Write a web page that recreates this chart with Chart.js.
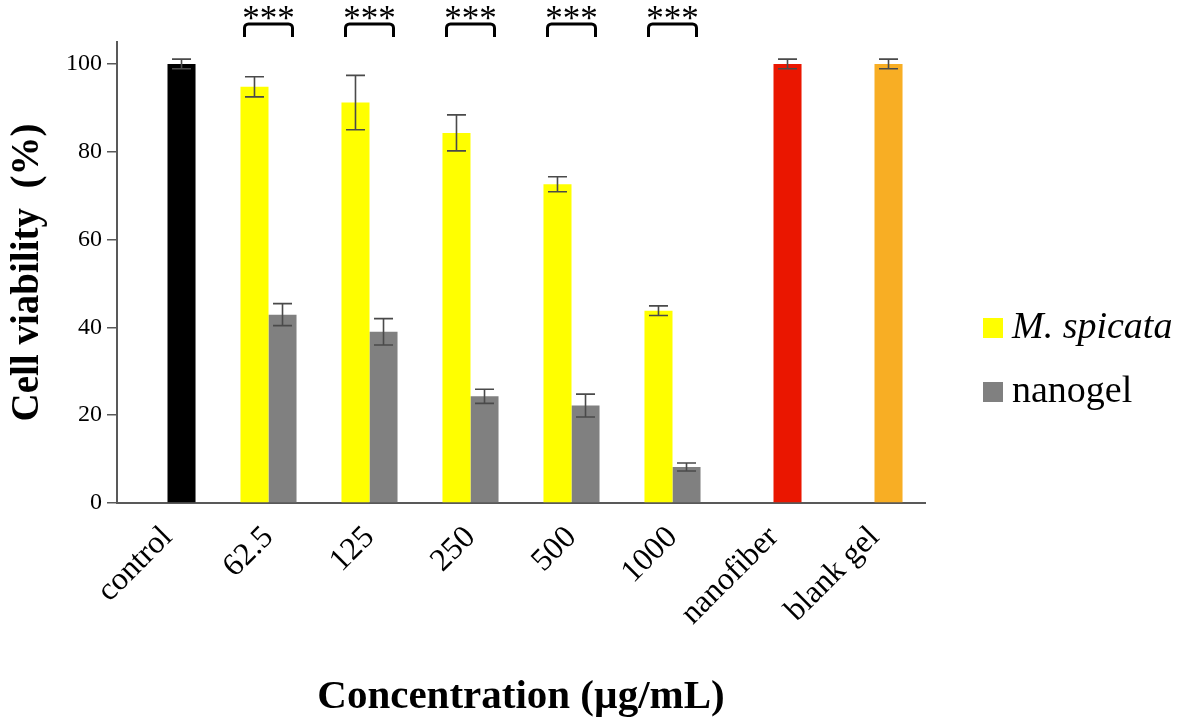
<!DOCTYPE html>
<html>
<head>
<meta charset="utf-8">
<script src="https://cdn.jsdelivr.net/npm/chart.js@4.4.1/dist/chart.umd.min.js"></script>
<style>
    body { margin: 0; background: #fff; }
    #wrap { width: 1179px; height: 728px; }
</style>
</head>
<body>
<div id="wrap"><canvas id="viabilityChart" width="1179" height="728"></canvas></div>
<script>
const categories = ["control", "62.5", "125", "250", "500", "1000", "nanofiber", "blank gel"];
const spicataValues = [null, 94.8, 91.2, 84.3, 72.6, 43.8, null, null];
const spicataErrors = [null, 2.3, 6.2, 4.1, 1.7, 1.1, null, null];
const nanogelValues = [100, 42.9, 39.0, 24.3, 22.2, 8.2, 100, 100];
const nanogelErrors = [1.1, 2.5, 3.0, 1.6, 2.6, 0.9, 1.1, 1.1];
const significance = ["", "***", "***", "***", "***", "***", "", ""];
const yTicks = [0, 20, 40, 60, 80, 100];

const SERIF = "'Liberation Serif', 'Times New Roman', serif";
const nanogelColors = ["#000000", "#808080", "#808080", "#808080", "#808080", "#808080", "#EA1600", "#F8AE24"];
const errors = [spicataErrors, nanogelErrors];

const errorBars = {
    id: "errorBars",
    afterDatasetsDraw(chart) {
        const ctx = chart.ctx;
        const y = chart.scales.y;
        ctx.save();
        ctx.strokeStyle = "#4a4a4a";
        ctx.lineWidth = 1.6;
        chart.data.datasets.forEach((ds, i) => {
            const meta = chart.getDatasetMeta(i);
            meta.data.forEach((bar, j) => {
                const v = ds.data[j];
                const e = errors[i][j];
                if (v == null || e == null) return;
                const top = y.getPixelForValue(v + e);
                const bot = y.getPixelForValue(v - e);
                ctx.beginPath();
                ctx.moveTo(bar.x, top); ctx.lineTo(bar.x, bot);
                ctx.moveTo(bar.x - 9.5, top); ctx.lineTo(bar.x + 9.5, top);
                ctx.moveTo(bar.x - 9.5, bot); ctx.lineTo(bar.x + 9.5, bot);
                ctx.stroke();
            });
        });
        ctx.restore();
    }
};

const brackets = {
    id: "brackets",
    afterDraw(chart) {
        const ctx = chart.ctx;
        const m0 = chart.getDatasetMeta(0);
        const m1 = chart.getDatasetMeta(1);
        ctx.save();
        significance.forEach((s, j) => {
            if (!s) return;
            const cx = (m0.data[j].x + m1.data[j].x) / 2;
            const x0 = cx - 24, x1 = cx + 24;
            ctx.strokeStyle = "#000";
            ctx.lineWidth = 3;
            ctx.lineJoin = "round";
            ctx.beginPath();
            ctx.moveTo(x0, 37);
            ctx.arcTo(x0, 24, x0 + 6, 24, 4);
            ctx.arcTo(x1, 24, x1, 30, 4);
            ctx.lineTo(x1, 37);
            ctx.stroke();
            ctx.fillStyle = "#000";
            ctx.font = "35px " + SERIF;
            ctx.textAlign = "center";
            ctx.textBaseline = "alphabetic";
            ctx.fillText(s, cx, 30);
        });

        // legend
        const items = [
            { text: "M. spicata", color: "#FFFF00", italic: true, base: 338 },
            { text: "nanogel", color: "#808080", italic: false, base: 402 }
        ];
        items.forEach(it => {
            ctx.fillStyle = it.color;
            ctx.fillRect(983, it.base - 20, 20, 20);
            ctx.fillStyle = "#000";
            ctx.font = (it.italic ? "italic " : "") + "38px " + SERIF;
            ctx.textAlign = "left";
            ctx.fillText(it.text, 1012, it.base);
        });
        ctx.restore();
    }
};

new Chart(document.getElementById("viabilityChart"), {
    type: "bar",
    data: {
        labels: categories,
        datasets: [
            {
                label: "M. spicata",
                data: spicataValues,
                backgroundColor: "#FFFF00",
                categoryPercentage: 0.555,
                barPercentage: 1.0
            },
            {
                label: "nanogel",
                data: nanogelValues,
                backgroundColor: nanogelColors,
                categoryPercentage: 0.555,
                barPercentage: 1.0
            }
        ]
    },
    options: {
        responsive: false,
        animation: false,
        layout: { padding: { top: 42, right: 254, left: 0, bottom: 0 } },
        plugins: {
            legend: { display: false },
            tooltip: { enabled: false }
        },
        scales: {
            x: {
                grid: { display: false },
                border: { display: true, color: "#595959", width: 2 },
                ticks: {
                    color: "#000",
                    font: { family: SERIF, size: 32 },
                    minRotation: 45,
                    maxRotation: 45,
                    padding: 8
                },
                title: {
                    display: true,
                    text: "Concentration (µg/mL)",
                    color: "#000",
                    font: { family: SERIF, size: 41, weight: "bold" },
                    padding: { top: 0, bottom: 6 }
                },
                afterFit(scale) { scale.height = 225; }
            },
            y: {
                min: 0,
                max: 105,
                afterBuildTicks(scale) { scale.ticks = yTicks.map(v => ({ value: v })); },
                grid: {
                    display: true,
                    drawOnChartArea: false,
                    drawTicks: true,
                    tickLength: 10,
                    color: "#595959",
                    lineWidth: 1.5
                },
                border: { display: true, color: "#595959", width: 2 },
                ticks: {
                    color: "#000",
                    font: { family: SERIF, size: 24 },
                    padding: 5
                },
                title: {
                    display: true,
                    text: "Cell viability  (%)",
                    color: "#000",
                    font: { family: SERIF, size: 39, weight: "bold" },
                    padding: { top: 5, bottom: 0 }
                },
                afterFit(scale) { scale.width = 117; }
            }
        }
    },
    plugins: [errorBars, brackets]
});
</script>
</body>
</html>
